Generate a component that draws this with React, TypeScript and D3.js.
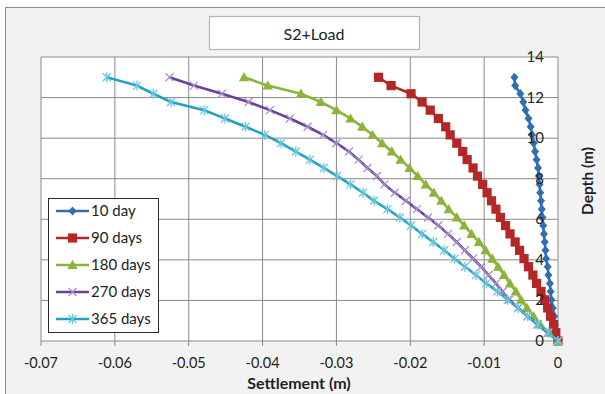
import * as d3 from "d3";

// depth (m) of every reading, top to bottom
const depths = [
  13, 12.59, 12.19, 11.78, 11.38, 10.97, 10.56, 10.16, 9.75, 9.34, 8.94, 8.53,
  8.13, 7.72, 7.31, 6.91, 6.5, 6.09, 5.69, 5.28, 4.88, 4.47, 4.06, 3.66, 3.25,
  2.84, 2.44, 2.03, 1.63, 1.22, 0.81, 0.41, 0,
];

const day10 = [
  -0.0059, -0.0058, -0.0051, -0.0047, -0.0044, -0.004, -0.0037, -0.0035,
  -0.0033, -0.0031, -0.0029, -0.0027, -0.0026, -0.0025, -0.0024, -0.0023,
  -0.0022, -0.0021, -0.002, -0.0019, -0.0018, -0.0017, -0.0016, -0.0014,
  -0.0013, -0.0011, -0.001, -0.0009, -0.0007, -0.0005, -0.0004, -0.0002, 0,
];
const day90 = [
  -0.0243, -0.0226, -0.0199, -0.0184, -0.0173, -0.0162, -0.0152, -0.0146,
  -0.0137, -0.0129, -0.0123, -0.0115, -0.0109, -0.0102, -0.0096, -0.009,
  -0.0084, -0.0078, -0.0071, -0.0065, -0.0058, -0.0052, -0.0046, -0.004,
  -0.0034, -0.0029, -0.0023, -0.0018, -0.0014, -0.001, -0.0006, -0.0003, 0,
];
const day180 = [
  -0.0425, -0.0393, -0.0348, -0.0321, -0.03, -0.0281, -0.0265, -0.0251,
  -0.0238, -0.0225, -0.0213, -0.0201, -0.019, -0.0179, -0.0168, -0.0158,
  -0.0148, -0.0137, -0.0127, -0.0117, -0.0107, -0.0098, -0.0089, -0.0081,
  -0.0073, -0.0065, -0.0057, -0.005, -0.0042, -0.0033, -0.0024, -0.0012, 0,
];
const day270 = [
  -0.0526, -0.0493, -0.0455, -0.0419, -0.039, -0.0363, -0.0339, -0.0318,
  -0.03, -0.0283, -0.027, -0.0258, -0.0245, -0.0235, -0.0221, -0.0206,
  -0.0191, -0.0176, -0.0162, -0.0149, -0.0137, -0.0126, -0.0115, -0.0104,
  -0.0094, -0.0084, -0.0075, -0.0066, -0.0054, -0.0041, -0.0028, -0.0014, 0,
];
const day365 = [
  -0.0611, -0.057, -0.0548, -0.0524, -0.0479, -0.0451, -0.0423, -0.0397,
  -0.0375, -0.0355, -0.0336, -0.0317, -0.0299, -0.0281, -0.0264, -0.0249,
  -0.0231, -0.0214, -0.0199, -0.0184, -0.0169, -0.0154, -0.014, -0.0126,
  -0.0111, -0.0097, -0.0082, -0.0068, -0.0054, -0.0041, -0.0027, -0.0013, 0,
];

const seriesNames = ["10 day", "90 days", "180 days", "270 days", "365 days"];
const xTicks = [-0.07, -0.06, -0.05, -0.04, -0.03, -0.02, -0.01, 0];
const xTickLabels = ["-0.07", "-0.06", "-0.05", "-0.04", "-0.03", "-0.02", "-0.01", "0"];
const yTicks = [0, 2, 4, 6, 8, 10, 12, 14];

type Kind = "diamond" | "square" | "triangle" | "x" | "star";

const series: { name: string; values: number[]; line: string; mark: string; kind: Kind }[] = [
  { name: seriesNames[0], values: day10, line: "#2f6db5", mark: "#2f6db5", kind: "diamond" },
  { name: seriesNames[1], values: day90, line: "#b52626", mark: "#b52626", kind: "square" },
  { name: seriesNames[2], values: day180, line: "#8bb43a", mark: "#8bb43a", kind: "triangle" },
  { name: seriesNames[3], values: day270, line: "#6a3f9b", mark: "#a890cf", kind: "x" },
  { name: seriesNames[4], values: day365, line: "#22a2c2", mark: "#6cc6e0", kind: "star" },
];

const W = 605;
const H = 394;
const plot = { left: 41, right: 558, top: 57, bottom: 341 };
const font = "Lato, 'Open Sans', sans-serif";

const x = d3.scaleLinear().domain([-0.07, 0]).range([plot.left, plot.right]);
const y = d3.scaleLinear().domain([0, 14]).range([plot.bottom, plot.top]);

const Marker = ({ kind, cx, cy, color }: { kind: Kind; cx: number; cy: number; color: string }) => {
  const t = `translate(${cx},${cy})`;
  if (kind === "diamond")
    return <path transform={t} d="M0,-4.6L4,0L0,4.6L-4,0Z" fill={color} />;
  if (kind === "square") return <rect transform={t} x={-4.6} y={-4.6} width={9.2} height={9.2} fill={color} />;
  if (kind === "triangle")
    return <path transform={t} d="M0,-5.2L5.2,4L-5.2,4Z" fill={color} />;
  if (kind === "x")
    return <path transform={t} d="M-4,-4L4,4M4,-4L-4,4" stroke={color} strokeWidth={1.3} />;
  return (
    <path
      transform={t}
      d="M-4,-4L4,4M4,-4L-4,4M0,-5L0,5"
      stroke={color}
      strokeWidth={1.3}
    />
  );
};

export default function App() {
  const line = d3
    .line<number>()
    .x((d) => x(d))
    .y((_, i) => y(depths[i]));

  return (
    <svg
      width={W}
      height={H}
      style={{ position: "absolute", left: 0, top: 0, background: "#fff" }}
      fontFamily={font}
    >
      <rect x={5.5} y={7.5} width={640} height={420} fill="#f2f2f2" stroke="#8c8c8c" />
      <rect x={209.5} y={16.5} width={210} height={33} fill="#fff" stroke="#b4b4b4" strokeWidth={1.2} />
      <text x={314} y={39.5} textAnchor="middle" fontSize={16} fill="#222">
        S2+Load
      </text>

      <rect x={plot.left} y={plot.top} width={plot.right - plot.left} height={plot.bottom - plot.top} fill="#fff" />
      {xTicks.map((t) => (
        <line key={"gx" + t} x1={x(t)} x2={x(t)} y1={plot.top} y2={plot.bottom} stroke="#8a8a8a" />
      ))}
      {yTicks.map((t) => (
        <line key={"gy" + t} x1={plot.left} x2={plot.right} y1={y(t)} y2={y(t)} stroke="#8a8a8a" />
      ))}
      {xTicks.map((t) => (
        <line key={"tx" + t} x1={x(t)} x2={x(t)} y1={plot.bottom} y2={plot.bottom + 5} stroke="#8a8a8a" />
      ))}
      {xTicks.map((t, i) => (
        <text key={"lx" + t} x={x(t)} y={368} textAnchor="middle" fontSize={14.5} fill="#222">
          {xTickLabels[i]}
        </text>
      ))}

      {series.map((s) => (
        <g key={s.name}>
          <path d={line(s.values) ?? ""} fill="none" stroke={s.line} strokeWidth={2.6} />
          {s.values.map((v, i) => (
            <Marker key={i} kind={s.kind} cx={x(v)} cy={y(depths[i])} color={s.mark} />
          ))}
        </g>
      ))}

      {yTicks.map((t) => (
        <text key={"ly" + t} x={544} y={y(t) + 5} textAnchor="end" fontSize={15} fill="#222">
          {t}
        </text>
      ))}

      <text x={299} y={389} textAnchor="middle" fontSize={16} fontWeight="bold" fill="#222">
        Settlement (m)
      </text>
      <text
        transform="translate(593,181) rotate(-90)"
        textAnchor="middle"
        fontSize={15.5}
        fontWeight="bold"
        fill="#222"
      >
        Depth (m)
      </text>

      <g>
        <rect x={48.5} y={198.5} width={110} height={134} fill="#fff" stroke="#2b2b2b" />
        {series.map((s, i) => {
          const ly = 211 + i * 27;
          return (
            <g key={"lg" + s.name}>
              <line x1={56} x2={89} y1={ly} y2={ly} stroke={s.line} strokeWidth={2.6} />
              <Marker kind={s.kind} cx={72.5} cy={ly} color={s.mark} />
              <text x={91} y={ly + 5} fontSize={15} fill="#222">
                {s.name}
              </text>
            </g>
          );
        })}
      </g>
    </svg>
  );
}
